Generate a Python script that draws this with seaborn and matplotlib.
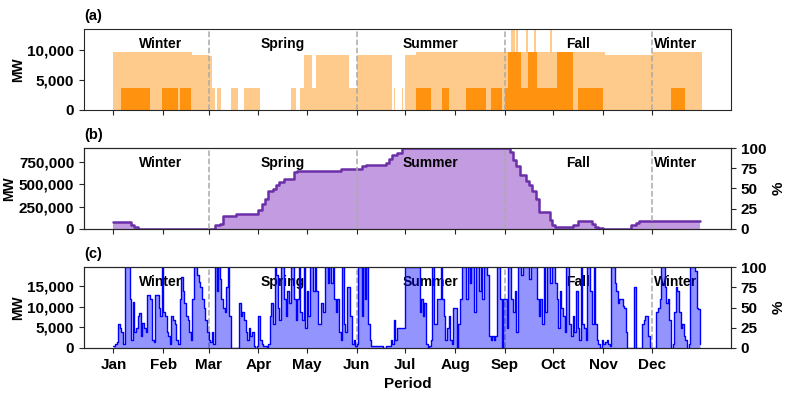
import numpy as np
import pandas as pd
import seaborn as sns
import matplotlib.pyplot as plt
import matplotlib.ticker as ticker
import matplotlib.dates as mdates

sns.set_style("ticks")
plt.rcParams["font.family"] = ["Liberation Sans", "DejaVu Sans"]
plt.rcParams["font.size"] = 11
plt.rcParams["font.weight"] = "bold"
plt.rcParams["axes.labelweight"] = "bold"
plt.rcParams["axes.labelsize"] = 11
plt.rcParams["xtick.labelsize"] = 11
plt.rcParams["ytick.labelsize"] = 11
plt.rcParams["text.color"] = "black"
plt.rcParams["axes.labelcolor"] = "black"
plt.rcParams["xtick.labelcolor"] = "black"
plt.rcParams["ytick.labelcolor"] = "black"

days = pd.date_range("2019-01-01", periods=365, freq="D")
months = pd.date_range("2019-01-01", periods=12, freq="MS")

# (a) generation, read per day as runs of (number of days, MW)
peak_runs = [(49, 9600), (10, 9200), (2, 9000), (2, 3600), (1, 0), (3, 3600),
             (6, 0), (4, 3600), (4, 0), (10, 3600), (19, 0), (3, 3600), (3, 0),
             (2, 3600), (5, 9200), (3, 3600), (20, 9200), (5, 3600), (22, 9200),
             (1, 0), (1, 3600), (4, 0), (1, 3600), (1, 0), (7, 9200), (59, 9600),
             (2, 13500), (1, 9600), (1, 13500), (5, 9600), (1, 13500), (4, 9600),
             (1, 13500), (9, 9600), (1, 13500), (33, 9600), (29, 9200), (31, 9600)]
base_runs = [(5, 0), (18, 3600), (7, 0), (10, 3600), (1, 0), (7, 3600), (140, 0),
             (9, 3600), (7, 0), (4, 3600), (11, 0), (12, 3600), (3, 0), (7, 3600),
             (2, 0), (2, 3600), (8, 9600), (4, 3600), (6, 9600), (12, 3600),
             (10, 9600), (3, 0), (16, 3600), (42, 0), (9, 3600), (10, 0)]

# (b) cumulative level, step changes
b_dates = ["2019-01-01", "2019-01-12", "2019-01-14", "2019-01-16", "2019-03-01",
           "2019-03-05", "2019-03-08", "2019-03-10", "2019-03-18", "2019-04-01",
           "2019-04-03", "2019-04-05", "2019-04-07", "2019-04-10", "2019-04-12",
           "2019-04-14", "2019-04-17", "2019-04-23", "2019-04-25", "2019-05-22",
           "2019-06-04", "2019-06-07", "2019-06-19", "2019-06-21", "2019-06-23",
           "2019-06-26", "2019-06-29", "2019-09-04", "2019-09-06", "2019-09-08",
           "2019-09-10", "2019-09-14", "2019-09-16", "2019-09-18", "2019-09-20",
           "2019-09-22", "2019-09-29", "2019-09-30", "2019-10-02", "2019-10-13",
           "2019-10-16", "2019-10-25", "2019-10-27", "2019-10-29", "2019-11-01",
           "2019-11-18", "2019-11-21", "2019-11-23", "2019-12-31"]
b_mw = [80000, 45000, 20000, 5000, 1000,
        40000, 60000, 150000, 165000, 210000,
        280000, 330000, 430000, 445000, 495000,
        525000, 560000, 640000, 650000, 670000,
        700000, 710000, 740000, 780000, 830000,
        850000, 905000, 860000, 770000, 700000,
        600000, 540000, 495000, 420000, 330000,
        186000, 100000, 48000, 23000, 50000,
        85000, 55000, 25000, 8000, 5000,
        40000, 70000, 85000, 85000]
b_max = 905000

# (c) daily level in % of its maximum (about 19,700 MW)
c_max = 19700
c_pct = [
    # Jan
    3, 5, 8, 30, 25, 20, 5, 100, 100, 100, 60, 10, 57, 20, 25, 40, 43, 15, 31, 25,
    20, 65, 65, 60, 10, 8, 65, 65, 50, 40, 100,
    # Feb
    45, 40, 20, 15, 5, 40, 35, 30, 10, 5, 60, 88, 70, 55, 40, 35, 20, 10, 60, 100,
    100, 90, 82, 75, 60, 50, 35, 20,
    # Mar
    10, 8, 20, 5, 100, 70, 100, 85, 60, 50, 45, 75, 100, 40, 0, 0, 0, 0, 0, 55,
    40, 45, 35, 20, 10, 25, 15, 20, 3, 0, 2,
    # Apr
    40, 10, 5, 2, 2, 0, 5, 40, 55, 30, 100, 90, 50, 35, 100, 100, 60, 40, 70, 55,
    100, 100, 60, 35, 60, 100, 45, 35, 100, 25,
    # May
    70, 40, 100, 100, 70, 100, 70, 30, 30, 55, 45, 100, 100, 80, 100, 80, 100, 60,
    45, 60, 20, 10, 100, 30, 20, 75, 75, 40, 5, 10, 3,
    # Jun
    5, 100, 100, 40, 100, 60, 100, 30, 10, 3, 3, 2, 3, 3, 3, 2, 0, 0, 2, 3,
    3, 10, 5, 35, 10, 25, 25, 25, 25, 25,
    # Jul
    100, 100, 100, 100, 100, 100, 100, 100, 100, 45, 60, 40, 55, 5, 0, 2, 10, 100,
    30, 30, 60, 60, 100, 60, 40, 10, 25, 40, 10, 5, 50,
    # Aug
    50, 0, 30, 60, 100, 100, 100, 60, 100, 80, 100, 100, 45, 100, 100, 70, 100, 60,
    100, 100, 90, 15, 10, 15, 10, 15, 100, 100, 60, 0, 60,
    # Sep
    60, 25, 100, 100, 60, 45, 70, 20, 100, 100, 90, 100, 100, 100, 100, 85, 100,
    100, 100, 100, 60, 40, 60, 30, 100, 45, 100, 100, 80, 100,
    # Oct
    100, 80, 60, 25, 70, 50, 40, 20, 100, 100, 30, 15, 40, 20, 70, 25, 10, 100, 30,
    25, 10, 100, 100, 70, 30, 100, 30, 10, 5, 0, 10,
    # Nov
    5, 8, 10, 5, 2, 100, 100, 80, 70, 55, 60, 60, 52, 50, 20, 0, 0, 0, 0, 75,
    0, 0, 0, 0, 30, 35, 40, 40, 15, 0,
    # Dec
    0, 0, 0, 45, 50, 60, 100, 100, 75, 55, 60, 35, 0, 5, 45, 75, 70, 45, 25, 30,
    15, 10, 0, 5, 100, 100, 100, 95, 50, 48, 5,
]

season_names = ["Winter", "Spring", "Summer", "Fall", "Winter"]
season_edges = pd.to_datetime(["2019-01-01", "2019-03-01", "2019-06-01",
                               "2019-09-01", "2019-12-01", "2019-12-31"])

peak_mw = np.repeat([v for n, v in peak_runs], [n for n, v in peak_runs])
base_mw = np.repeat([v for n, v in base_runs], [n for n, v in base_runs])

fig, axes = plt.subplots(3, 1, figsize=(7.89, 3.95), dpi=100, sharex=True)
fig.subplots_adjust(left=0.1065, right=0.9265, top=0.9266, bottom=0.119, hspace=0.47)
ax_a, ax_b, ax_c = axes

# (a)
ax_a.bar(days, peak_mw, width=1.0, align="edge", color="darkorange", alpha=0.45, lw=0)
ax_a.bar(days, base_mw, width=1.0, align="edge", color="darkorange", alpha=0.9, lw=0)
ax_a.set_ylim(0, 13500)
ax_a.set_yticks([0, 5000, 10000])

# (b)
b_x = pd.to_datetime(b_dates)
ax_b.fill_between(b_x, b_mw, step="post", color="#c39be0", lw=0)
sns.lineplot(x=b_x, y=b_mw, drawstyle="steps-post", color="#6b2fa8", lw=1.8, ax=ax_b)
ax_b.set_ylim(0, b_max)
ax_b.set_yticks([0, 250000, 500000, 750000])
ax_b2 = ax_b.twinx()
ax_b2.set_ylim(0, 100)
ax_b2.set_yticks([0, 25, 50, 75, 100])
ax_b2.set_ylabel("%")

# (c)
ax_c.set_ylim(0, c_max)
ax_c.set_yticks([0, 5000, 10000, 15000])
ax_c2 = ax_c.twinx()
ax_c2.fill_between(days, c_pct, step="post", color="blue", alpha=0.42, lw=0)
sns.lineplot(x=days, y=c_pct, drawstyle="steps-post", color="blue", lw=1.0, ax=ax_c2)
ax_c2.set_ylim(0, 100)
ax_c2.set_yticks([0, 25, 50, 75, 100])
ax_c2.set_ylabel("%")

for ax, tag in zip(axes, ["(a)", "(b)", "(c)"]):
    ax.yaxis.set_major_formatter(ticker.StrMethodFormatter("{x:,.0f}"))
    ax.set_ylabel("MW", fontsize=10, labelpad=2)
    ax.text(0, 1.07, tag, transform=ax.transAxes, va="bottom", ha="left",
            fontsize=10.5, fontweight="bold")
    for edge in season_edges[1:-1]:
        ax.axvline(edge, color="#aaaaaa", ls="--", lw=1.1, zorder=5)
    for name, lo, hi in zip(season_names, season_edges[:-1], season_edges[1:]):
        ax.text(lo + (hi - lo) / 2, 0.81, name, transform=ax.get_xaxis_transform(),
                ha="center", va="center", fontsize=10, fontweight="bold", zorder=6)

for ax in [ax_b2, ax_c2]:
    ax.set_xlabel("")

ax_c.set_xticks(months)
ax_c.xaxis.set_major_formatter(mdates.DateFormatter("%b"))
ax_c.set_xlabel("Period")

plt.savefig("out.png", dpi=100)
